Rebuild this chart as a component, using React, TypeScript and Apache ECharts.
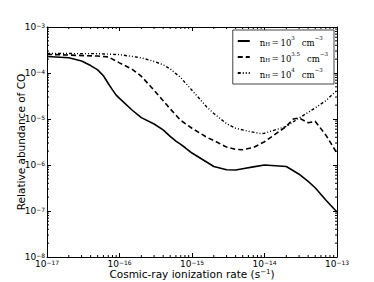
import React, { useEffect, useRef } from "react";
import * as echarts from "echarts";

// Cosmic-ray ionization rate (s^-1) and CO abundance per density
const x1 = [1e-17, 2e-17, 3e-17, 4e-17, 5e-17, 6e-17, 7e-17, 8e-17, 9e-17, 1e-16, 1.5e-16, 2e-16, 3e-16, 4e-16, 5e-16, 6e-16, 7e-16, 8e-16, 1e-15, 2e-15, 3e-15, 4e-15, 5e-15, 7e-15, 1e-14, 2e-14, 3e-14, 4e-14, 5e-14, 7e-14, 1e-13];
const y1 = [2.29e-4, 2.14e-4, 1.82e-4, 1.45e-4, 1.17e-4, 8.7e-5, 5.9e-5, 4.3e-5, 3.3e-5, 2.8e-5, 1.55e-5, 1.07e-5, 7.8e-6, 5.8e-6, 4.2e-6, 3.3e-6, 2.8e-6, 2.4e-6, 1.82e-6, 9.3e-7, 7.9e-7, 7.8e-7, 8.3e-7, 9.1e-7, 1.0e-6, 9.3e-7, 6.3e-7, 4.4e-7, 3.2e-7, 1.74e-7, 9.5e-8];

const x2 = [1e-17, 2e-17, 5e-17, 7e-17, 1e-16, 1.5e-16, 2e-16, 3e-16, 4e-16, 5e-16, 7e-16, 1e-15, 1.6e-15, 2e-15, 3e-15, 4e-15, 5e-15, 7e-15, 1e-14, 2e-14, 2.5e-14, 3e-14, 4e-14, 5e-14, 7e-14, 1e-13];
const y2 = [2.54e-4, 2.45e-4, 2.34e-4, 2.24e-4, 1.66e-4, 1.2e-4, 8.5e-5, 4.2e-5, 2.5e-5, 1.66e-5, 9.3e-6, 6.3e-6, 4.0e-6, 3.4e-6, 2.45e-6, 2.19e-6, 2.14e-6, 2.4e-6, 3.2e-6, 6.9e-6, 1.0e-5, 1.05e-5, 8.3e-6, 8.9e-6, 4.5e-6, 1.8e-6];

const x3 = [1e-17, 5e-17, 1e-16, 2e-16, 3e-16, 4e-16, 5e-16, 7e-16, 1e-15, 1.6e-15, 2e-15, 3e-15, 4e-15, 6e-15, 9e-15, 1e-14, 2e-14, 3e-14, 5e-14, 7e-14, 1e-13];
const y3 = [2.66e-4, 2.63e-4, 2.51e-4, 2.14e-4, 1.78e-4, 1.51e-4, 1.23e-4, 7.9e-5, 4.2e-5, 1.82e-5, 1.32e-5, 7.9e-6, 6.3e-6, 5.4e-6, 4.8e-6, 4.9e-6, 6.9e-6, 1.05e-5, 1.74e-5, 2.5e-5, 4.2e-5];

const seriesNames = ["nH=10^3", "nH=10^3.5", "nH=10^4"];
const densityExps = ["3", "3.5", "4"];

const xMin = 1e-17;
const xMax = 1e-13;
const yMin = 1e-8;
const yMax = 1e-3;
const minorMultipliers = [2, 3, 4, 5, 6, 7, 8, 9];
const xDecades = [1e-17, 1e-16, 1e-15, 1e-14];
const yDecades = [1e-8, 1e-7, 1e-6, 1e-5, 1e-4];

const zip = (xs: number[], ys: number[]) => xs.map((x, i) => [x, ys[i]]);

const powLabel = (v: number) => {
  const e = Math.round(Math.log10(v));
  return `{b|10}{s|${e < 0 ? "\u2212" : ""}${Math.abs(e)}}`;
};

const labelRich = {
  b: { fontSize: 9, fontFamily: "DejaVu Sans", color: "#000", verticalAlign: "bottom" as const, lineHeight: 9 },
  s: { fontSize: 6, fontFamily: "DejaVu Sans", color: "#000", verticalAlign: "top" as const, lineHeight: 9, padding: [0, 0, 3, 0] },
};

export default function App() {
  const ref = useRef<HTMLDivElement>(null);
  useEffect(() => {
    if (!ref.current) return;
    const chart = echarts.init(ref.current, undefined, { renderer: "svg" });

    // [x, y, kind]: minor tick positions on the log axes
    const minorData: number[][] = [];
    xDecades.forEach((d) => minorMultipliers.forEach((m) => minorData.push([d * m, 1e-5, 0])));
    yDecades.forEach((d) => minorMultipliers.forEach((m) => minorData.push([1e-15, d * m, 1])));

    const lineBase = { type: "line" as const, showSymbol: false, symbol: "none", smooth: false, z: 3 };
    const legendName = (name: string) => {
      const i = seriesNames.indexOf(name);
      return `{g|}{n|n}{sub|H}{n|\u2009=\u200910}{sup|${densityExps[i]}}{n|\u2002 cm}{sup|\u22123}`;
    };
    const serif = "DejaVu Serif";

    chart.setOption({
      animation: false,
      backgroundColor: "#fff",
      grid: { left: 47, right: 37, top: 27, bottom: 25, outerBoundsMode: "none", containLabel: false },
      legend: {
        orient: "vertical",
        right: 40,
        top: 30,
        padding: [5, 6, 5, 4],
        itemGap: 4,
        itemWidth: 12,
        itemHeight: 12,
        backgroundColor: "#fff",
        borderColor: "#444",
        borderWidth: 1,
        data: seriesNames,
        formatter: legendName,
        itemStyle: { color: "transparent", borderColor: "transparent", borderWidth: 0 },
        textStyle: {
          rich: {
            g: { width: 5 },
            n: { fontFamily: serif, fontSize: 8.5, color: "#000", verticalAlign: "bottom", lineHeight: 12 },
            sub: { fontFamily: serif, fontSize: 5.5, color: "#000", verticalAlign: "bottom", lineHeight: 12 },
            sup: { fontFamily: serif, fontSize: 5.5, color: "#000", verticalAlign: "top", lineHeight: 12, padding: [0, 0, 5, 0] },
          },
        },
      },
      xAxis: [
        {
          type: "log",
          logBase: 10,
          min: xMin,
          max: xMax,
          splitNumber: 4,
          name: "{t|Cosmic-ray ionization rate (s}{p|\u22121}{t|)}",
          nameLocation: "middle",
          nameGap: 11,
          nameMoveOverlap: false,
          nameTextStyle: {
            rich: {
              t: { fontFamily: "DejaVu Sans", fontSize: 10.5, color: "#000", verticalAlign: "bottom", lineHeight: 11 },
              p: { fontFamily: "DejaVu Sans", fontSize: 7, color: "#000", verticalAlign: "top", lineHeight: 11, padding: [0, 0, 4, 0] },
            },
          },
          axisLine: { show: true, lineStyle: { color: "#000", width: 1 } },
          axisTick: { show: true, inside: true, length: 4, lineStyle: { color: "#000" } },
          axisLabel: { formatter: powLabel, rich: labelRich, margin: 2 },
          splitLine: { show: false },
        },
        {
          type: "log",
          logBase: 10,
          min: xMin,
          max: xMax,
          splitNumber: 4,
          position: "top",
          axisLine: { show: true, lineStyle: { color: "#000", width: 1 } },
          axisTick: { show: true, inside: true, length: 4, lineStyle: { color: "#000" } },
          axisLabel: { show: false },
          splitLine: { show: false },
        },
      ],
      yAxis: [
        {
          type: "log",
          logBase: 10,
          min: yMin,
          max: yMax,
          splitNumber: 5,
          name: "Relative abundance of CO",
          nameLocation: "middle",
          nameGap: 21,
          nameMoveOverlap: false,
          nameTextStyle: { fontFamily: "DejaVu Sans", fontSize: 10.5, color: "#000" },
          axisLine: { show: true, lineStyle: { color: "#000", width: 1 } },
          axisTick: { show: true, inside: true, length: 4, lineStyle: { color: "#000" } },
          axisLabel: { formatter: powLabel, rich: labelRich, margin: 2 },
          splitLine: { show: false },
        },
        {
          type: "log",
          logBase: 10,
          min: yMin,
          max: yMax,
          splitNumber: 5,
          position: "right",
          axisLine: { show: true, lineStyle: { color: "#000", width: 1 } },
          axisTick: { show: true, inside: true, length: 4, lineStyle: { color: "#000" } },
          axisLabel: { show: false },
          splitLine: { show: false },
        },
      ],
      series: [
        {
          ...lineBase,
          name: seriesNames[0],
          data: zip(x1, y1),
          lineStyle: { color: "#000", width: 1.6, type: "solid" },
          itemStyle: { color: "#000" },
        },
        {
          ...lineBase,
          name: seriesNames[1],
          data: zip(x2, y2),
          lineStyle: { color: "#000", width: 1.6, type: [5, 3] },
          itemStyle: { color: "#000" },
        },
        {
          ...lineBase,
          name: seriesNames[2],
          data: zip(x3, y3),
          lineStyle: { color: "#000", width: 1.4, type: [3, 2, 1, 2, 1, 2] },
          itemStyle: { color: "#000" },
        },
        {
          type: "custom",
          name: "minor",
          silent: true,
          clip: false,
          z: 2,
          data: minorData,
          encode: { x: 0, y: 1 },
          renderItem: (params: any, api: any) => {
            const kind = api.value(2);
            const len = 2;
            const style = { stroke: "#000", lineWidth: 1 };
            if (kind === 0) {
              const v = api.value(0);
              const b = api.coord([v, yMin]);
              const t = api.coord([v, yMax]);
              return {
                type: "group",
                children: [
                  { type: "line", shape: { x1: b[0], y1: b[1], x2: b[0], y2: b[1] - len }, style },
                  { type: "line", shape: { x1: t[0], y1: t[1], x2: t[0], y2: t[1] + len }, style },
                ],
              };
            }
            const v = api.value(1);
            const l = api.coord([xMin, v]);
            const r = api.coord([xMax, v]);
            return {
              type: "group",
              children: [
                { type: "line", shape: { x1: l[0], y1: l[1], x2: l[0] + len, y2: l[1] }, style },
                { type: "line", shape: { x1: r[0], y1: r[1], x2: r[0] - len, y2: r[1] }, style },
              ],
            };
          },
        },
      ],
    });
    return () => chart.dispose();
  }, []);
  return (
    <div
      ref={ref}
      style={{ position: "absolute", left: 0, top: 0, width: 374, height: 282, overflow: "hidden" }}
    />
  );
}
